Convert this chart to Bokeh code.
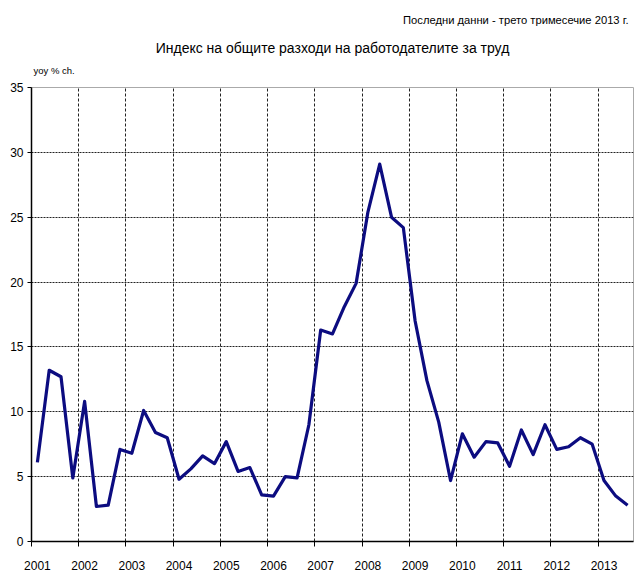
from bokeh.plotting import figure
from bokeh.models import FixedTicker, Title, Range1d
from bokeh.embed import file_html
from bokeh.resources import INLINE

# Data: quarterly year-on-year % change, 2001 Q1 .. 2013 Q3
years = ["2001", "2002", "2003", "2004", "2005", "2006", "2007",
         "2008", "2009", "2010", "2011", "2012", "2013"]
values = [
    6.1, 13.2, 12.7, 4.9,     # 2001
    10.8, 2.7, 2.8, 7.1,      # 2002
    6.8, 10.1, 8.4, 8.0,      # 2003
    4.8, 5.6, 6.6, 6.0,       # 2004
    7.7, 5.4, 5.7, 3.6,       # 2005
    3.5, 5.0, 4.9, 9.0,       # 2006
    16.3, 16.0, 18.1, 19.9,   # 2007
    25.4, 29.1, 25.0, 24.2,   # 2008
    17.0, 12.4, 9.2, 4.7,     # 2009
    8.3, 6.5, 7.7, 7.6,       # 2010
    5.8, 8.6, 6.7, 9.0,       # 2011
    7.1, 7.3, 8.0, 7.5,       # 2012
    4.7, 3.5, 2.8,            # 2013
]
y_ticks = [0, 5, 10, 15, 20, 25, 30, 35]
title_text = "Индекс на общите разходи на работодателите за труд"
subtitle_text = "Последни данни - трето тримесечие 2013 г."
y_unit_text = "yoy % ch."

FONT = "Liberation Sans"

n_quarters = 4 * len(years) - 1  # 51 (through 2013 Q3)
xs = [i + 0.5 for i in range(len(values))]

p = figure(width=634, height=572, output_backend="svg", toolbar_location=None,
           x_range=Range1d(0, n_quarters), y_range=Range1d(0, 35),
           min_border_left=31, min_border_right=1, min_border_top=87,
           min_border_bottom=30)
p.outline_line_color = "#aaaaaa"
p.background_fill_color = "white"
p.border_fill_color = "white"

p.line(xs, values, line_color="#0c0c80", line_width=3.2, line_join="round")

# x axis: labels at middle of each year's first quarter; boundaries as minor ticks
year_bounds = [4 * k for k in range(len(years))]
label_pos = [4 * k + 0.5 for k in range(len(years))]
p.xaxis.ticker = FixedTicker(ticks=label_pos, minor_ticks=year_bounds)
p.xaxis.major_label_overrides = {pos: yr for pos, yr in zip(label_pos, years)}
p.xaxis.major_tick_line_color = None
p.xaxis.major_tick_out = 0
p.xaxis.major_tick_in = 0
p.xaxis.minor_tick_line_color = "black"
p.xaxis.minor_tick_out = 5
p.xaxis.minor_tick_in = 0
p.xaxis.axis_line_color = "black"
p.xaxis.axis_line_width = 1.5
p.xaxis.major_label_standoff = 14
p.xaxis.major_label_text_font = FONT
p.xaxis.major_label_text_font_size = "12px"
p.xaxis.major_label_text_color = "black"

p.yaxis.ticker = FixedTicker(ticks=y_ticks)
p.yaxis.axis_line_color = "black"
p.yaxis.axis_line_width = 1.5
p.yaxis.major_tick_out = 4
p.yaxis.major_tick_in = 0
p.yaxis.minor_tick_line_color = None
p.yaxis.major_label_standoff = 4
p.yaxis.major_label_text_font = FONT
p.yaxis.major_label_text_font_size = "12px"
p.yaxis.major_label_text_color = "black"

p.xgrid.ticker = FixedTicker(ticks=year_bounds[1:])
p.xgrid.grid_line_color = "#222222"
p.xgrid.grid_line_dash = "3 2"
p.xgrid.grid_line_width = 1
p.ygrid.ticker = FixedTicker(ticks=y_ticks[1:])
p.ygrid.grid_line_color = "#222222"
p.ygrid.grid_line_dash = "2 1"
p.ygrid.grid_line_width = 1

# texts above the plot frame (added nearest-first); first one is a small spacer
p.add_layout(Title(text=" ", align="left", standoff=6,
                   text_font=FONT, text_font_size="1px"), "above")
p.add_layout(Title(text=y_unit_text, align="left", offset=2, standoff=5,
                   text_font=FONT, text_font_size="9.5px", text_font_style="normal",
                   text_color="black"), "above")
p.add_layout(Title(text=title_text, align="center", standoff=10,
                   text_font=FONT, text_font_size="14px", text_font_style="normal",
                   text_color="black"), "above")
p.add_layout(Title(text=subtitle_text, align="right", offset=5, standoff=14,
                   text_font=FONT, text_font_size="11.2px", text_font_style="normal",
                   text_color="black"), "above")

open("out.html", "w").write(file_html(p, INLINE))
